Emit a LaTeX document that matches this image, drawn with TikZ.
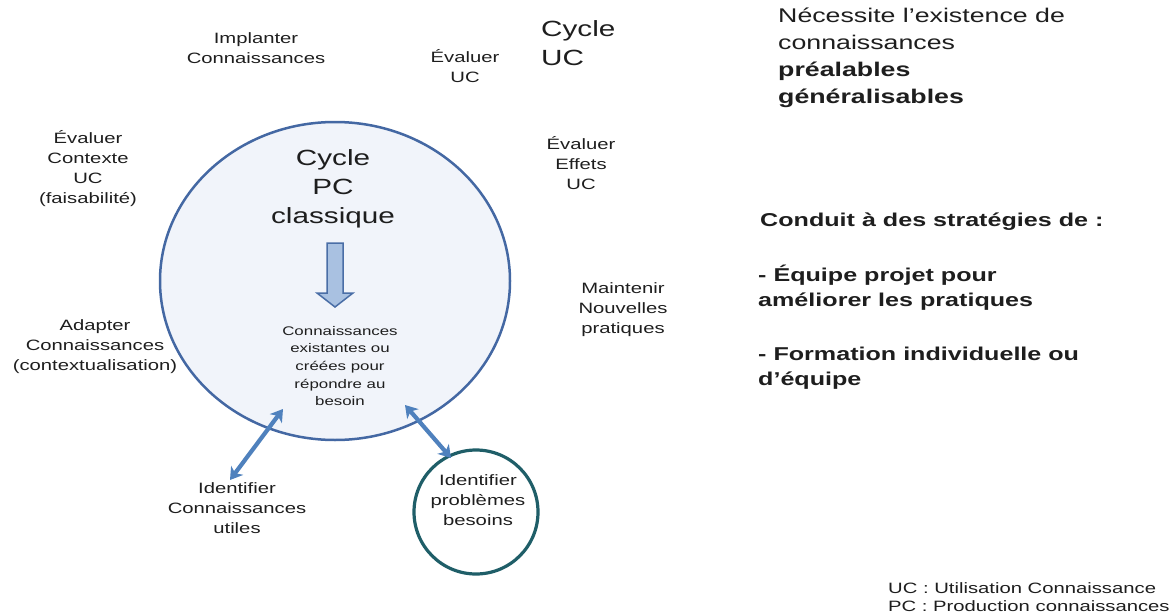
\documentclass[tikz,border=0pt]{standalone}
\usepackage{fontspec}
\setmainfont{Liberation Sans}[FakeStretch=1.35]
\usetikzlibrary{arrows.meta,shapes.geometric}
\definecolor{txt}{HTML}{1E1E1E}
\definecolor{cycleblue}{HTML}{4468A3}
\definecolor{cyclefill}{HTML}{F1F4FA}
\definecolor{tealc}{HTML}{1F5E68}
\definecolor{arrblue}{HTML}{4F81BD}
\definecolor{blockfill}{HTML}{A9C1E1}
\definecolor{blockedge}{HTML}{4A6EA6}
\tikzset{
  lab/.style={text=txt, align=center, inner sep=0pt, font=\fontsize{15}{20}\selectfont},
  big/.style={text=txt, align=center, inner sep=0pt, font=\fontsize{22}{29}\selectfont},
  inner/.style={text=txt, align=center, inner sep=0pt, font=\fontsize{12.5}{17.6}\selectfont},
  side/.style={text=txt, align=left, anchor=west, inner sep=0pt, font=\fontsize{19.8}{27}\selectfont},
  sideb/.style={text=txt, align=left, anchor=west, inner sep=0pt, font=\bfseries\fontsize{18.6}{25}\selectfont},
  legend/.style={text=txt, align=left, anchor=west, inner sep=0pt, font=\fontsize{15}{18}\selectfont},
  dbl/.style={draw=arrblue, line width=4.2pt, {Stealth[length=12pt,width=15pt,inset=3.5pt]}-{Stealth[length=12pt,width=15pt,inset=3.5pt]}}
}
\begin{document}
\begin{tikzpicture}[x=1pt,y=-1pt]
\useasboundingbox (0,0) rectangle (1173,613);
% main cycle
\node[ellipse, draw=cycleblue, fill=cyclefill, line width=2.5pt, minimum width=350pt, minimum height=318pt, inner sep=0pt] (pc) at (335,281) {};
% small circle
\node[circle, draw=tealc, fill=white, line width=3.2pt, minimum size=124pt, inner sep=0pt] (prob) at (476,512) {};
% block arrow
\filldraw[fill=blockfill, draw=blockedge, line width=1.5pt]
  (327,243) -- (343,243) -- (343,293) -- (353,293) -- (335,307) -- (317,293) -- (327,293) -- cycle;
% texts
\node[big] (cyclepc) at (333,189) {Cycle\\PC\\classique};
\node[inner] (kn) at (340,366) {Connaissances\\existantes ou\\créées pour\\répondre au\\besoin};
\node[lab] (impl) at (256,48) {Implanter\\Connaissances};
\node[lab] (evuc) at (465,66) {Évaluer\\UC};
\node[big, align=left, anchor=west] (cycleuc) at (541,43) {Cycle\\UC};
\node[lab] (evctx) at (88,169) {Évaluer\\Contexte\\UC\\(faisabilité)};
\node[lab] (eveff) at (581,163) {Évaluer\\Effets\\UC};
\node[lab] (maint) at (623,310) {Maintenir\\Nouvelles\\pratiques};
\node[lab] (adapt) at (95,347) {Adapter\\Connaissances\\(contextualisation)};
\node[lab] (ident) at (237,508) {Identifier\\Connaissances\\utiles};
\node[lab] (probtxt) at (478,500) {Identifier\\problèmes\\besoins};
% right side
\node[side] (nec) at (778,58) {Nécessite l’existence de\\connaissances\\\textbf{préalables}\\\textbf{généralisables}};
\node[sideb] (cond) at (760,222) {Conduit à des stratégies de :};
\node[sideb] (equipe) at (758,288) {- Équipe projet pour\\améliorer les pratiques};
\node[sideb] (form) at (758,368) {- Formation individuelle ou\\d’équipe};
\node[legend] (leg) at (888,597) {UC : Utilisation Connaissance\\PC : Production connaissances};
% double arrows
\coordinate (a1t) at (283,409);
\coordinate (a1b) at (230,480);
\coordinate (a2t) at (405,405);
\coordinate (a2b) at (451,458);
\draw[dbl] (a1t) -- (a1b);
\draw[dbl] (a2t) -- (a2b);
\end{tikzpicture}
\end{document}
